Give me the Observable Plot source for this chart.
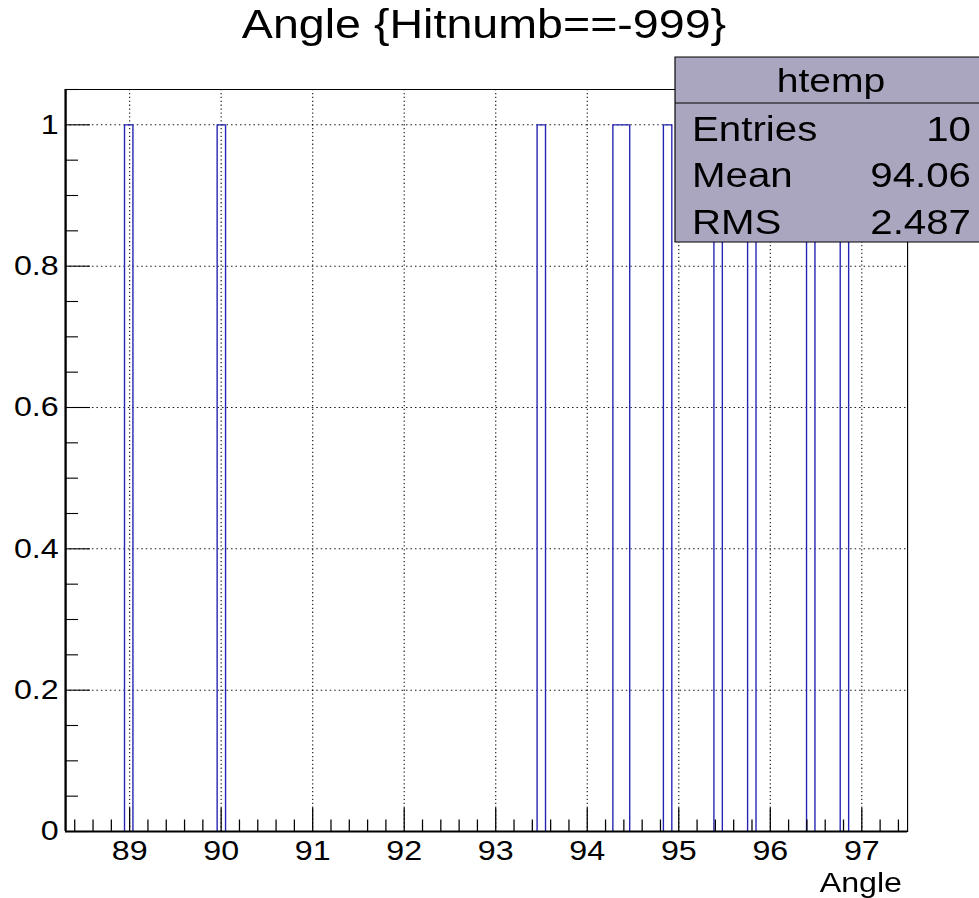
<!DOCTYPE html>
<html>
<head>
<meta charset="utf-8">
<script src="https://cdn.jsdelivr.net/npm/d3@7"></script>
<script src="https://cdn.jsdelivr.net/npm/@observablehq/plot@0.6"></script>
<style>
  html, body { margin: 0; padding: 0; background: #fff; overflow: hidden; }
  #chart { width: 851px; transform: scaleX(1.15041); transform-origin: 0 0; }
</style>
</head>
<body>
<div id="chart"></div>
<script>
// ---- data ----
const histTitle = "Angle {Hitnumb==-999}";
const histName = "htemp";
const xAxisTitle = "Angle";
const xRange = [88.3, 97.5];
const nBins = 100;
// lower edges of the non-empty bins and their contents
const filledBinLow = [88.944, 89.956, 93.452, 94.280, 94.372, 94.832, 95.384, 95.752, 96.396, 96.764];
const filledBinCount = [1, 1, 1, 1, 1, 1, 1, 1, 1, 1];
const yRange = [0, 1.05];
const xMajorTicks = [89, 90, 91, 92, 93, 94, 95, 96, 97];
const yMajorTicks = [0, 0.2, 0.4, 0.6, 0.8, 1];
const yTickLabels = ["0", "0.2", "0.4", "0.6", "0.8", "1"];
const statLabels = ["Entries", "Mean", "RMS"];
const statValues = ["10", "94.06", "2.487"];

// ---- build histogram outline table ----
const bw = (xRange[1] - xRange[0]) / nBins;
const counts = new Array(nBins).fill(0);
filledBinLow.forEach((lo, i) => { counts[Math.round((lo - xRange[0]) / bw)] += filledBinCount[i]; });
const steps = counts.map((c, i) => ({x: xRange[0] + i * bw, y: c}));
steps.push({x: xRange[1], y: counts[nBins - 1]});

const xMinorTicks = d3.range(Math.ceil(xRange[0] * 5), Math.floor(xRange[1] * 5) + 1).map(i => i / 5)
  .filter(v => !xMajorTicks.some(m => Math.abs(m - v) < 1e-6));
const yMinorTicks = d3.range(0, Math.floor(yRange[1] * 20) + 1).map(i => i / 20)
  .filter(v => !yMajorTicks.some(m => Math.abs(m - v) < 1e-6));

// ---- layout (design units; figure is stretched horizontally by K) ----
const K = 1.15041;
const W = 851, H = 898;
const mL = 65 / K, mR = W - 907 / K, mT = 89, mB = H - 831;
const frameH = H - mT - mB, frameW = W - mL - mR;
const font = "'Liberation Sans', Arial, Helvetica, sans-serif";
const tickFont = 28;

function overlay() {
  const g = d3.create("svg:g").attr("font-family", font).attr("fill", "#000").attr("text-anchor", "start");
  g.append("text").attr("x", 484 / K).attr("y", 38.5).attr("text-anchor", "middle")
    .attr("font-size", 40.5).text(histTitle);
  g.append("text").attr("x", 902 / K).attr("y", 892).attr("text-anchor", "end")
    .attr("font-size", 28).text(xAxisTitle);
  const bx0 = 675 / K, bx1 = W + 2, by0 = 57, by1 = 242, bh = 103;
  g.append("rect").attr("x", bx0).attr("y", by0).attr("width", bx1 - bx0).attr("height", by1 - by0)
    .attr("fill", "#aaa6c0").attr("stroke", "#000").attr("stroke-width", 1);
  g.append("line").attr("x1", bx0).attr("x2", bx1).attr("y1", bh).attr("y2", bh)
    .attr("stroke", "#000").attr("stroke-width", 1);
  g.append("text").attr("x", 831 / K).attr("y", 92).attr("text-anchor", "middle")
    .attr("font-size", 34).text(histName);
  const baselines = [141, 187.5, 234];
  statLabels.forEach((s, i) => {
    g.append("text").attr("x", 692 / K).attr("y", baselines[i]).attr("text-anchor", "start")
      .attr("font-size", 35).text(s);
    g.append("text").attr("x", 971 / K).attr("y", baselines[i]).attr("text-anchor", "end")
      .attr("font-size", 35).text(statValues[i]);
  });
  return g.node();
}

const grid = {stroke: "#000", strokeWidth: 1, strokeDasharray: "1.3,2.6", strokeOpacity: 0.9};

const chart = Plot.plot({
  width: W, height: H,
  marginLeft: mL, marginRight: mR, marginTop: mT, marginBottom: mB,
  style: {fontFamily: font, fontSize: tickFont + "px", background: "#fff", color: "#000", overflow: "visible"},
  x: {domain: xRange},
  y: {domain: yRange},
  marks: [
    Plot.ruleX(xMajorTicks, grid),
    Plot.ruleY(yMajorTicks.filter(v => v > 0), grid),
    Plot.line(steps, {x: "x", y: "y", curve: "step-after", stroke: "#2424b4", strokeWidth: 1.2}),
    Plot.ruleX(xMajorTicks, {stroke: "#000", strokeWidth: 1.1, insetTop: frameH - 23}),
    Plot.ruleX(xMinorTicks, {stroke: "#000", strokeWidth: 1.1, insetTop: frameH - 11.5}),
    Plot.ruleY(yMajorTicks, {stroke: "#000", strokeWidth: 1.1, insetRight: frameW - 25 / K}),
    Plot.ruleY(yMinorTicks, {stroke: "#000", strokeWidth: 1.1, insetRight: frameW - 13 / K}),
    Plot.frame({stroke: "#000", strokeWidth: 1}),
    Plot.ruleX([xRange[0]], {stroke: "#000", strokeWidth: 2}),
    Plot.ruleY([yRange[0]], {stroke: "#000", strokeWidth: 2}),
    Plot.axisX({ticks: xMajorTicks, tickSize: 0, tickPadding: 9, fontSize: tickFont,
      tickFormat: d => String(d), label: null}),
    Plot.axisY({ticks: yMajorTicks, tickSize: 0, tickPadding: 6, fontSize: tickFont,
      tickFormat: d => yTickLabels[yMajorTicks.indexOf(d)], label: null}),
    overlay
  ]
});
document.getElementById("chart").append(chart);
</script>
</body>
</html>
